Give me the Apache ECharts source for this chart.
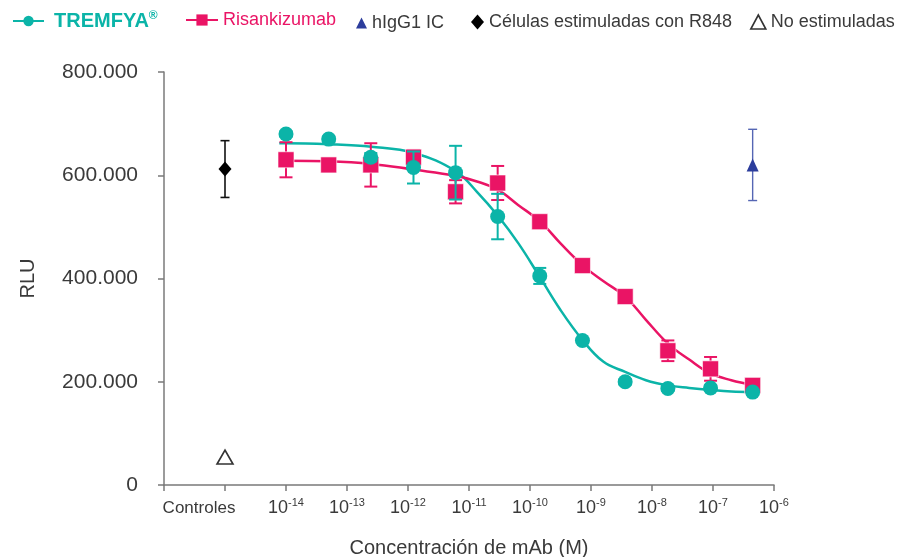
<!DOCTYPE html>
<html>
<head>
<meta charset="utf-8">
<script src="https://cdn.jsdelivr.net/npm/echarts@6/dist/echarts.min.js"></script>
<style>html,body{margin:0;padding:0;background:#fff}#c{width:900px;height:557px}</style>
</head>
<body>
<div id="c"></div>
<script>
// ---- data (x in log10 of concentration, M) ----
const xTicks = [-16, -15, -14, -13, -12, -11, -10, -9, -8, -7, -6];
const doseLog = [-14, -13.3, -12.61, -11.91, -11.22, -10.53, -9.84, -9.14, -8.44, -7.74, -7.04, -6.35];
const tremfyaVals = [680000, 670000, 635000, 615000, 605000, 520000, 405000, 280000, 200000, 187000, 188000, 180000];
const tremfyaErr  = [5000, 5000, 8000, 31000, 52000, 44000, 15500, 5000, 5000, 5000, 5000, 5000];
const risaVals = [630000, 620000, 620000, 635000, 568000, 585000, 510000, 425000, 365000, 260000, 225000, 193000];
const risaErr  = [34000, 5000, 42000, 14000, 22500, 33000, 5000, 5000, 5000, 20000, 23000, 5000];
// fitted curves
const tremCurveX = [-14.11, -14, -13.3, -12.6, -11.9, -11.22, -10.87, -10.53, -10.19, -9.85, -9.5, -9.14, -8.8, -8.44, -8.1, -7.74, -7.39, -7.04, -6.7, -6.35];
const tremCurveY = [662000, 662000, 660000, 655000, 643000, 608000, 568000, 522000, 468000, 405000, 339000, 281000, 239000, 219000, 203000, 193000, 188000, 184000, 181000, 180000];
const risaCurveX = [-14.12, -14, -13.3, -12.6, -11.91, -11.22, -10.87, -10.53, -10.19, -9.84, -9.5, -9.14, -8.8, -8.44, -8.1, -7.74, -7.39, -7.04, -6.7, -6.35];
const risaCurveY = [628000, 628000, 627000, 622000, 611000, 599000, 588000, 572000, 542000, 511000, 468000, 426000, 395000, 365000, 320000, 274000, 243000, 216000, 203000, 194000];
const controlX = -15;
const stimVal = 612000, stimErr = 55000;
const unstimVal = 54000;
const iggX = -6.35, iggVal = 620000, iggErr = 69000;

const TEAL = '#0BB4A8', PINK = '#EA1465', BLUE = '#2C3D9C', TXT = '#3a3a3a';
const FONT = "'Liberation Sans', Arial, Helvetica, sans-serif";

function pairs(xs, ys){ return xs.map((x,i)=>[x, ys[i]]); }
function errData(xs, vs, es){ return xs.map((x,i)=>[x, vs[i]-es[i], vs[i]+es[i]]); }
function errRender(color, cap, width){
  return function(params, api){
    const x = api.value(0), lo = api.value(1), hi = api.value(2);
    const a = api.coord([x, hi]), b = api.coord([x, lo]);
    const h = cap/2, st = {stroke: color, lineWidth: width};
    return {type:'group', children:[
      {type:'line', shape:{x1:a[0], y1:a[1], x2:b[0], y2:b[1]}, style:st},
      {type:'line', shape:{x1:a[0]-h, y1:a[1], x2:a[0]+h, y2:a[1]}, style:st},
      {type:'line', shape:{x1:b[0]-h, y1:b[1], x2:b[0]+h, y2:b[1]}, style:st}
    ]};
  };
}

const chart = echarts.init(document.getElementById('c'), null, {renderer:'canvas'});
const baseLegendText = {fontFamily: FONT, fontSize: 18, color: TXT};
chart.setOption({
  animation: false,
  textStyle: {fontFamily: FONT},
  grid: {left: 164, right: 126, top: 72, bottom: 72, containLabel: false, outerBoundsMode: 'none'},
  legend: [
    {data: ['TREMFYA®'], left: 12, top: 10, padding: 0, itemWidth: 31, itemHeight: 13, selectedMode: false,
     formatter: () => '{t|TREMFYA}{r|®}',
     textStyle: {rich: {t: {fontFamily: FONT, fontSize: 20, fontWeight: 'bold', color: TEAL, padding:[0,0,0,5], lineHeight: 22},
                        r: {fontFamily: FONT, fontSize: 12, fontWeight: 'bold', color: TEAL, verticalAlign: 'top', lineHeight: 12}}}},
    {data: [{name: 'Risankizumab', textStyle: {color: PINK}}], left: 185, top: 11, padding: 0, itemWidth: 32, itemHeight: 14, selectedMode: false,
     textStyle: Object.assign({}, baseLegendText, {color: PINK})},
    {data: [{name: 'hIgG1 IC', icon: 'triangle', itemStyle: {color: BLUE}}], left: 356, top: 14, padding: 0, itemWidth: 11, itemHeight: 11, selectedMode: false, textStyle: baseLegendText},
    {data: [{name: 'Células estimuladas con R848', icon: 'diamond', itemStyle: {color: '#000'}}], left: 471, top: 13, padding: 0, itemWidth: 13, itemHeight: 15, selectedMode: false, textStyle: baseLegendText},
    {data: [{name: 'No estimuladas', icon: 'triangle', itemStyle: {color: '#fff', borderColor: '#333', borderWidth: 1.6}}], left: 750, top: 13, padding: 0, itemWidth: 15, itemHeight: 14, selectedMode: false, textStyle: baseLegendText}
  ],
  xAxis: {
    type: 'value', min: -16, max: -6, interval: 1,
    name: 'Concentración de mAb (M)', nameLocation: 'middle', nameGap: 53,
    nameTextStyle: {fontFamily: FONT, fontSize: 20, color: TXT},
    axisLine: {show: true, onZero: false, lineStyle: {color: '#7a7a7a', width: 1.5}},
    axisTick: {show: true, length: 6, lineStyle: {color: '#7a7a7a', width: 1.5}},
    splitLine: {show: false},
    axisLabel: {
      margin: 12, color: TXT, showMinLabel: true, showMaxLabel: true,
      formatter: function(v){
        if (v === xTicks[0]) return '';
        if (v === controlX) return '{c|Controles}';
        return '{b|10}{s|-' + Math.abs(v) + '}';
      },
      rich: {
        c: {fontFamily: FONT, fontSize: 17, color: TXT, padding: [0, 52, 0, 0], lineHeight: 22},
        b: {fontFamily: FONT, fontSize: 18, color: TXT, lineHeight: 22},
        s: {fontFamily: FONT, fontSize: 11, color: TXT, verticalAlign: 'top', lineHeight: 12}
      }
    }
  },
  yAxis: {
    type: 'value', min: 0, max: 800000, interval: 200000,
    name: 'RLU', nameLocation: 'middle', nameGap: 126, nameRotate: 90,
    nameTextStyle: {fontFamily: FONT, fontSize: 20, color: TXT},
    axisLine: {show: true, lineStyle: {color: '#7a7a7a', width: 1.5}},
    axisTick: {show: true, length: 6, lineStyle: {color: '#7a7a7a', width: 1.5}},
    splitLine: {show: false},
    axisLabel: {margin: 26, fontFamily: FONT, fontSize: 21, color: TXT,
      formatter: v => v === 0 ? '0' : (v/1000) + '.000'}
  },
  series: [
    {name: 'TREMFYA®', type: 'line', data: pairs(tremCurveX, tremCurveY), smooth: 0.4, showSymbol: false,
     symbol: 'circle', z: 2, lineStyle: {color: TEAL, width: 2.5}, itemStyle: {color: TEAL}},
    {name: 'Risankizumab', type: 'line', data: pairs(risaCurveX, risaCurveY), smooth: 0.4, showSymbol: false,
     symbol: 'rect', z: 2, lineStyle: {color: PINK, width: 2.5}, itemStyle: {color: PINK}},
    {name: 'Risankizumab', type: 'scatter', data: pairs(doseLog, risaVals), symbol: 'rect', symbolSize: 16, z: 4,
     itemStyle: {color: PINK, borderColor: '#fff', borderWidth: 0.6, opacity: 1}},
    {name: 'Risankizumab', type: 'custom', renderItem: errRender(PINK, 13, 2), data: errData(doseLog, risaVals, risaErr),
     encode: {x: 0, y: [1, 2]}, z: 3},
    {name: 'TREMFYA®', type: 'scatter', data: pairs(doseLog, tremfyaVals), symbol: 'circle', symbolSize: 15, z: 6,
     itemStyle: {color: TEAL, opacity: 1}},
    {name: 'TREMFYA®', type: 'custom', renderItem: errRender(TEAL, 13, 2), data: errData(doseLog, tremfyaVals, tremfyaErr),
     encode: {x: 0, y: [1, 2]}, z: 5},
    {name: 'Células estimuladas con R848', type: 'scatter', data: [[controlX, stimVal]], symbol: 'diamond',
     symbolSize: [13, 15], z: 6, itemStyle: {color: '#000', opacity: 1}},
    {name: 'Células estimuladas con R848', type: 'custom', renderItem: errRender('#111', 9, 1.6),
     data: [[controlX, stimVal - stimErr, stimVal + stimErr]], encode: {x: 0, y: [1, 2]}, z: 5},
    {name: 'No estimuladas', type: 'scatter', data: [[controlX, unstimVal]], symbol: 'triangle', symbolSize: [16, 14], z: 6,
     itemStyle: {color: '#fff', borderColor: '#333', borderWidth: 1.6, opacity: 1}},
    {name: 'hIgG1 IC', type: 'scatter', data: [[iggX, iggVal]], symbol: 'triangle', symbolSize: [12, 13], z: 6,
     itemStyle: {color: BLUE, opacity: 1}},
    {name: 'hIgG1 IC', type: 'custom', renderItem: errRender('#5566B4', 9, 1.4),
     data: [[iggX, iggVal - iggErr, iggVal + iggErr]], encode: {x: 0, y: [1, 2]}, z: 5}
  ]
});
</script>
</body>
</html>
